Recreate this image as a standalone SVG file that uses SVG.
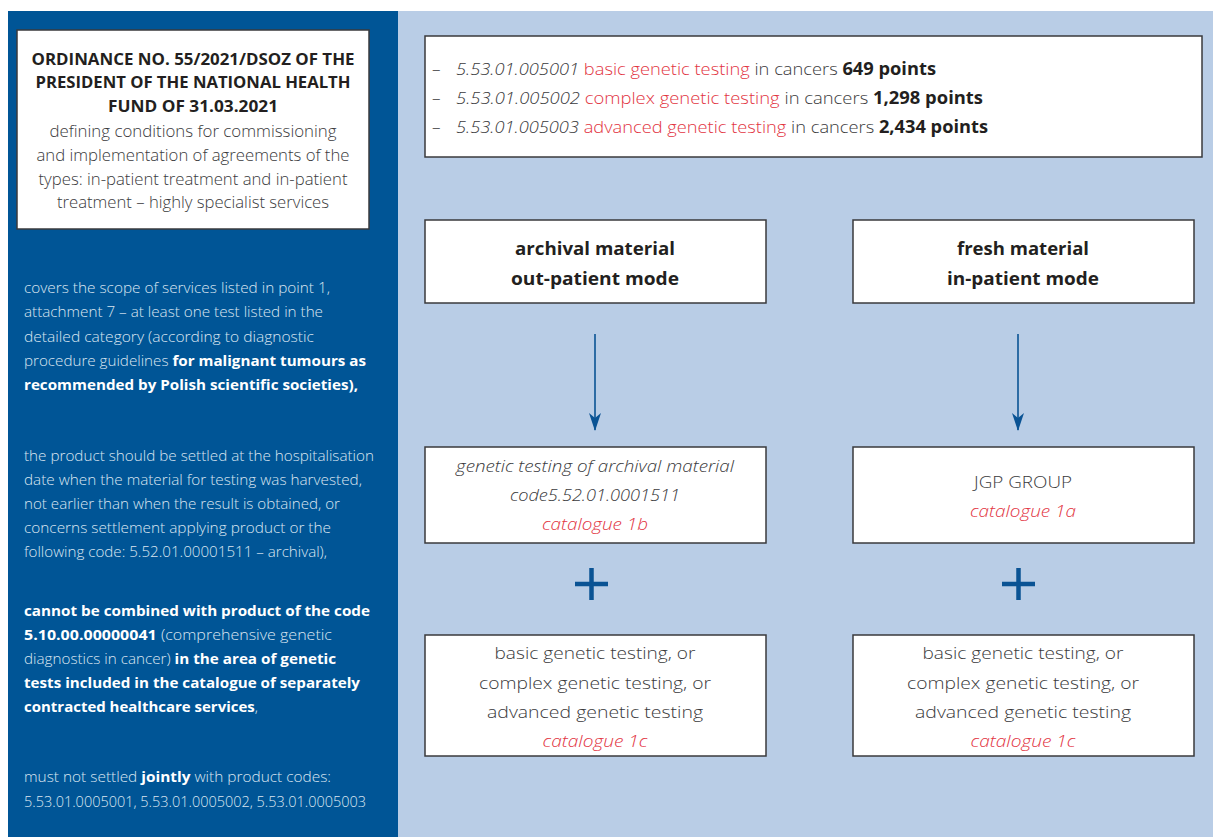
<svg xmlns="http://www.w3.org/2000/svg" width="1213" height="837" viewBox="0 0 1213 837">
<defs>
<style>
.box{fill:#fff;stroke:#3a3a3c;stroke-width:1.5}
.t{font-family:"Open Sans","Noto Sans","Liberation Sans",sans-serif;font-weight:300}
.b{font-weight:700}
.i{font-style:italic}
.red{fill:#e2343f}
.dk{fill:#3a3a3c}
.blk{fill:#231f20}
.lp{font-size:15px;fill:#dbe5f1}
.lp .b{fill:#ffffff}
.conn{stroke:#0a5394;stroke-width:1.6;fill:none}
.plus{stroke:#0a5394;stroke-width:4.5;fill:none}
</style>
<marker id="ah" viewBox="0 0 18 12" refX="17" refY="6" markerWidth="18" markerHeight="12" markerUnits="userSpaceOnUse" orient="auto">
<path d="M0,0 L5,6 L0,12 L18,6 Z" fill="#0a5394"/>
</marker>
</defs>
<rect x="0" y="0" width="1213" height="837" fill="#ffffff"/>
<rect x="8" y="11" width="390" height="826" fill="#005596"/>
<rect x="398" y="11" width="815" height="826" fill="#b9cde6"/>

<g id="ordinance">
<rect class="box" x="17" y="30" width="352" height="199" stroke="#2b2b2b"/>
<g class="t blk b" font-size="16" text-anchor="middle">
<text x="193" y="65" textLength="323" lengthAdjust="spacingAndGlyphs">ORDINANCE NO. 55/2021/DSOZ OF THE</text>
<text x="193" y="88" textLength="315" lengthAdjust="spacingAndGlyphs">PRESIDENT OF THE NATIONAL HEALTH</text>
<text x="193" y="112" textLength="170" lengthAdjust="spacingAndGlyphs">FUND OF 31.03.2021</text>
</g>
<g class="t dk" font-size="16" text-anchor="middle">
<text x="193" y="137" textLength="287" lengthAdjust="spacingAndGlyphs">defining conditions for commissioning</text>
<text x="193" y="161" textLength="313" lengthAdjust="spacingAndGlyphs">and implementation of agreements of the</text>
<text x="193" y="185" textLength="309" lengthAdjust="spacingAndGlyphs">types: in-patient treatment and in-patient</text>
<text x="193" y="208" textLength="272" lengthAdjust="spacingAndGlyphs">treatment – highly specialist services</text>
</g>
</g>

<g id="left-notes" class="t lp">
<text x="24" y="293" textLength="306" lengthAdjust="spacingAndGlyphs">covers the scope of services listed in point 1,</text>
<text x="24" y="317" textLength="299" lengthAdjust="spacingAndGlyphs">attachment 7 – at least one test listed in the</text>
<text x="24" y="342" textLength="290" lengthAdjust="spacingAndGlyphs">detailed category (according to diagnostic</text>
<text x="24" y="366" textLength="342" lengthAdjust="spacingAndGlyphs">procedure guidelines <tspan class="b">for malignant tumours as</tspan></text>
<text x="24" y="390" textLength="334" lengthAdjust="spacingAndGlyphs"><tspan class="b">recommended by Polish scientific societies),</tspan></text>

<text x="24" y="461" textLength="350" lengthAdjust="spacingAndGlyphs">the product should be settled at the hospitalisation</text>
<text x="24" y="485" textLength="338" lengthAdjust="spacingAndGlyphs">date when the material for testing was harvested,</text>
<text x="24" y="509" textLength="316" lengthAdjust="spacingAndGlyphs">not earlier than when the result is obtained, or</text>
<text x="24" y="533" textLength="307" lengthAdjust="spacingAndGlyphs">concerns settlement applying product or the</text>
<text x="24" y="557" textLength="303" lengthAdjust="spacingAndGlyphs">following code: 5.52.01.00001511 – archival),</text>

<text x="24" y="616" textLength="346" lengthAdjust="spacingAndGlyphs"><tspan class="b">cannot be combined with product of the code</tspan></text>
<text x="24" y="640" textLength="308" lengthAdjust="spacingAndGlyphs"><tspan class="b">5.10.00.00000041</tspan> (comprehensive genetic</text>
<text x="24" y="664" textLength="312" lengthAdjust="spacingAndGlyphs">diagnostics in cancer) <tspan class="b">in the area of genetic</tspan></text>
<text x="24" y="688" textLength="336" lengthAdjust="spacingAndGlyphs"><tspan class="b">tests included in the catalogue of separately</tspan></text>
<text x="24" y="712" textLength="234" lengthAdjust="spacingAndGlyphs"><tspan class="b">contracted healthcare services</tspan>,</text>

<text x="24" y="782" textLength="307" lengthAdjust="spacingAndGlyphs">must not settled <tspan class="b">jointly</tspan> with product codes:</text>
<text x="24" y="807" textLength="342" lengthAdjust="spacingAndGlyphs">5.53.01.0005001, 5.53.01.0005002, 5.53.01.0005003</text>
</g>

<g id="codes-box">
<rect class="box" x="425" y="36" width="777" height="121"/>
<g class="t dk" font-size="17">
<text x="432" y="75">–</text>
<text x="432" y="104">–</text>
<text x="432" y="133">–</text>
<text x="456" y="75" textLength="480" lengthAdjust="spacingAndGlyphs"><tspan class="i">5.53.01.005001</tspan> <tspan class="red">basic genetic testing</tspan> in cancers <tspan class="b blk">649 points</tspan></text>
<text x="456" y="104" textLength="527" lengthAdjust="spacingAndGlyphs"><tspan class="i">5.53.01.005002</tspan> <tspan class="red">complex genetic testing</tspan> in cancers <tspan class="b blk">1,298 points</tspan></text>
<text x="456" y="133" textLength="532" lengthAdjust="spacingAndGlyphs"><tspan class="i">5.53.01.005003</tspan> <tspan class="red">advanced genetic testing</tspan> in cancers <tspan class="b blk">2,434 points</tspan></text>
</g>
</g>

<g id="archival">
<rect class="box" x="425" y="220" width="341" height="83"/>
<g class="t b blk" font-size="18" text-anchor="middle">
<text x="595" y="255" textLength="160" lengthAdjust="spacingAndGlyphs">archival material</text>
<text x="595" y="285" textLength="168" lengthAdjust="spacingAndGlyphs">out-patient mode</text>
</g>
</g>

<g id="fresh">
<rect class="box" x="853" y="220" width="341" height="83"/>
<g class="t b blk" font-size="18" text-anchor="middle">
<text x="1023" y="255" textLength="132" lengthAdjust="spacingAndGlyphs">fresh material</text>
<text x="1023" y="285" textLength="152" lengthAdjust="spacingAndGlyphs">in-patient mode</text>
</g>
</g>

<g id="catalogue-1b">
<rect class="box" x="425" y="447" width="341" height="96"/>
<g class="t i" font-size="17" text-anchor="middle">
<text class="dk" x="595" y="472" textLength="278" lengthAdjust="spacingAndGlyphs">genetic testing of archival material</text>
<text class="dk" x="595" y="501" textLength="170" lengthAdjust="spacingAndGlyphs">code5.52.01.0001511</text>
<text class="red" x="595" y="530" textLength="106" lengthAdjust="spacingAndGlyphs">catalogue 1b</text>
</g>
</g>

<g id="catalogue-1a">
<rect class="box" x="853" y="447" width="341" height="96"/>
<g class="t" font-size="17" text-anchor="middle">
<text class="dk" x="1023" y="488" textLength="98" lengthAdjust="spacingAndGlyphs">JGP GROUP</text>
<text class="red i" x="1023" y="517" textLength="106" lengthAdjust="spacingAndGlyphs">catalogue 1a</text>
</g>
</g>

<g id="catalogue-1c-left">
<rect class="box" x="425" y="635" width="341" height="121"/>
<g class="t" font-size="17" text-anchor="middle">
<text class="dk" x="595" y="659" textLength="201" lengthAdjust="spacingAndGlyphs">basic genetic testing, or</text>
<text class="dk" x="595" y="689" textLength="232" lengthAdjust="spacingAndGlyphs">complex genetic testing, or</text>
<text class="dk" x="595" y="718" textLength="216" lengthAdjust="spacingAndGlyphs">advanced genetic testing</text>
<text class="red i" x="595" y="747" textLength="105" lengthAdjust="spacingAndGlyphs">catalogue 1c</text>
</g>
</g>

<g id="catalogue-1c-right">
<rect class="box" x="853" y="635" width="341" height="121"/>
<g class="t" font-size="17" text-anchor="middle">
<text class="dk" x="1023" y="659" textLength="201" lengthAdjust="spacingAndGlyphs">basic genetic testing, or</text>
<text class="dk" x="1023" y="689" textLength="232" lengthAdjust="spacingAndGlyphs">complex genetic testing, or</text>
<text class="dk" x="1023" y="718" textLength="216" lengthAdjust="spacingAndGlyphs">advanced genetic testing</text>
<text class="red i" x="1023" y="747" textLength="105" lengthAdjust="spacingAndGlyphs">catalogue 1c</text>
</g>
</g>

<g id="connectors">
<line class="conn" x1="595" y1="334" x2="595" y2="430" marker-end="url(#ah)"/>
<line class="conn" x1="1018" y1="334" x2="1018" y2="430" marker-end="url(#ah)"/>
<path class="plus" d="M575,584 H608 M591.5,568 V600"/>
<path class="plus" d="M1002,584 H1035 M1018.5,568 V600"/>
</g>
</svg>
